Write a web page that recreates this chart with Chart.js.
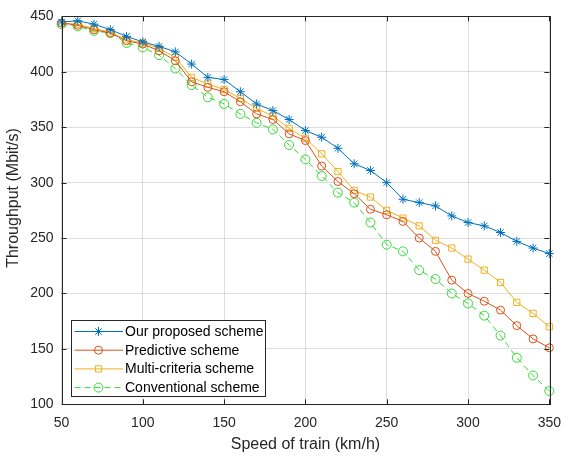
<!DOCTYPE html>
<html>
<head>
<meta charset="utf-8">
<title>Throughput vs train speed</title>
<script src="https://cdn.jsdelivr.net/npm/chart.js@4.4.1/dist/chart.umd.min.js"></script>
<style>
  html, body { margin: 0; padding: 0; background: #fff; }
  #wrap { width: 571px; height: 457px; }
</style>
</head>
<body>
<div id="wrap"><canvas id="throughput" width="571" height="457"></canvas></div>
<script>
const speeds = [50, 60, 70, 80, 90, 100, 110, 120, 130, 140, 150, 160, 170, 180, 190, 200,
  210, 220, 230, 240, 250, 260, 270, 280, 290, 300, 310, 320, 330, 340, 350];

const proposed = [445, 446, 443, 438, 432, 427, 423, 418, 407, 395, 393, 382, 371, 365, 357, 347,
  341, 331, 317, 311, 300, 285, 282, 279, 270, 264, 261, 255, 247, 241, 236];
const predictive = [444, 442, 438, 435, 428, 425, 419, 410, 391, 386, 382, 373, 362, 357, 344, 338,
  315, 301, 290, 276, 271, 265, 250, 238, 212, 200, 193, 185, 171, 159, 151];
const multiCriteria = [444, 443, 439, 436, 429, 426, 421, 413, 395, 389, 384, 376, 367, 360, 349, 340,
  326, 310, 293, 287, 275, 268, 261, 248, 241, 231, 221, 210, 192, 182, 170];
const conventional = [443, 441, 437, 435, 426, 422, 415, 403, 388, 377, 371, 362, 354, 348, 334, 321,
  306, 291, 282, 264, 244, 238, 221, 213, 200, 191, 180, 162, 142, 126, 112];

const seriesNames = ['Our proposed scheme', 'Predictive scheme', 'Multi-criteria scheme', 'Conventional scheme'];
const xTicks = [50, 100, 150, 200, 250, 300, 350];
const yTicks = [100, 150, 200, 250, 300, 350, 400, 450];

const FONT = '"Liberation Sans", Arial, Helvetica, sans-serif';
const AXIS_COLOR = '#262626';

function toPoints(values) {
  return values.map((v, i) => ({ x: speeds[i], y: v }));
}

function series(label, values, color, style, radius, dash) {
  return {
    label: label,
    data: toPoints(values),
    borderColor: color,
    borderWidth: 1,
    borderDash: dash || [],
    pointStyle: style,
    pointRadius: radius,
    pointHoverRadius: radius,
    pointBorderColor: color,
    pointBackgroundColor: 'rgba(0,0,0,0)',
    pointBorderWidth: 1,
    tension: 0,
    fill: false,
    clip: false,
  };
}

const datasets = [
  series(seriesNames[0], proposed, '#0072BD', 'star', 4.5),
  series(seriesNames[1], predictive, '#D95319', 'circle', 4),
  series(seriesNames[2], multiCriteria, '#EDB120', 'rect', 4.4),
  series(seriesNames[3], conventional, '#36DA36', 'circle', 4.5, [6, 4]),
];

// markers for the legend box, same shapes as the plotted points
function drawMarker(ctx, style, x, y, r) {
  ctx.beginPath();
  if (style === 'star') {
    ctx.moveTo(x - r, y); ctx.lineTo(x + r, y);
    ctx.moveTo(x, y - r); ctx.lineTo(x, y + r);
    const d = r * Math.SQRT1_2;
    ctx.moveTo(x - d, y - d); ctx.lineTo(x + d, y + d);
    ctx.moveTo(x - d, y + d); ctx.lineTo(x + d, y - d);
  } else if (style === 'rect') {
    const s = r * Math.SQRT1_2;
    ctx.rect(x - s, y - s, 2 * s, 2 * s);
  } else {
    ctx.arc(x, y, r, 0, Math.PI * 2);
  }
  ctx.stroke();
}

// axes box with inward ticks, y title, and the legend box
const boxPlugin = {
  id: 'axesBox',
  afterDatasetsDraw(chart) {
    const { ctx, chartArea: a, scales } = chart;
    ctx.save();
    ctx.strokeStyle = AXIS_COLOR;
    ctx.lineWidth = 1;
    ctx.strokeRect(Math.round(a.left) + 0.5, Math.round(a.top) + 0.5,
      Math.round(a.right - a.left), Math.round(a.bottom - a.top));
    const len = 5;
    ctx.beginPath();
    xTicks.forEach((t) => {
      const px = Math.round(scales.x.getPixelForValue(t)) + 0.5;
      ctx.moveTo(px, a.bottom); ctx.lineTo(px, a.bottom - len);
      ctx.moveTo(px, a.top); ctx.lineTo(px, a.top + len);
    });
    yTicks.forEach((t) => {
      const py = Math.round(scales.y.getPixelForValue(t)) + 0.5;
      ctx.moveTo(a.left, py); ctx.lineTo(a.left + len, py);
      ctx.moveTo(a.right, py); ctx.lineTo(a.right - len, py);
    });
    ctx.stroke();

    ctx.translate(14, 198);
    ctx.rotate(-Math.PI / 2);
    ctx.font = '16px ' + FONT;
    ctx.fillStyle = AXIS_COLOR;
    ctx.textAlign = 'center';
    ctx.textBaseline = 'middle';
    ctx.fillText('Throughput (Mbit/s)', 0, 0);
    ctx.restore();
  },
  afterDraw(chart) {
    const { ctx } = chart;
    const left = 71.5, top = 320.5, w = 194, h = 76;
    ctx.save();
    ctx.fillStyle = '#fff';
    ctx.fillRect(left, top, w, h);
    ctx.strokeStyle = AXIS_COLOR;
    ctx.lineWidth = 1;
    ctx.strokeRect(left, top, w, h);
    ctx.font = '14px ' + FONT;
    ctx.textBaseline = 'middle';
    ctx.textAlign = 'left';
    chart.data.datasets.forEach((ds, i) => {
      const y = 331.5 + i * 18.7;
      ctx.strokeStyle = ds.borderColor;
      ctx.lineWidth = 1;
      ctx.setLineDash(ds.borderDash);
      ctx.beginPath();
      ctx.moveTo(74.5, y); ctx.lineTo(123, y);
      ctx.stroke();
      ctx.setLineDash([]);
      drawMarker(ctx, ds.pointStyle, 98.5, y, ds.pointRadius);
      ctx.fillStyle = '#000';
      ctx.fillText(ds.label, 125, y + 0.5);
    });
    ctx.restore();
  },
};

new Chart(document.getElementById('throughput'), {
  type: 'line',
  data: { datasets: datasets },
  plugins: [boxPlugin],
  options: {
    responsive: false,
    animation: false,
    events: [],
    layout: { padding: { top: 12, right: 12, left: 0, bottom: 0 } },
    plugins: { legend: { display: false }, tooltip: { enabled: false } },
    scales: {
      x: {
        type: 'linear',
        min: 50,
        max: 350,
        afterBuildTicks: (scale) => { scale.ticks = xTicks.map((v) => ({ value: v })); },
        afterFit: (scale) => { scale.height = 52.7; },
        border: { display: false },
        grid: { color: 'rgba(0,0,0,0.13)', lineWidth: 1, drawTicks: false },
        ticks: { color: AXIS_COLOR, padding: 10, maxRotation: 0, font: { family: FONT, size: 14 } },
        title: {
          display: true,
          text: 'Speed of train (km/h)',
          color: AXIS_COLOR,
          font: { family: FONT, size: 16 },
          padding: { top: 0, bottom: 3 },
        },
      },
      y: {
        type: 'linear',
        min: 100,
        max: 450,
        afterBuildTicks: (scale) => { scale.ticks = yTicks.map((v) => ({ value: v })); },
        afterFit: (scale) => { scale.width = 61.5; },
        border: { display: false },
        grid: { color: 'rgba(0,0,0,0.13)', lineWidth: 1, drawTicks: false },
        ticks: { color: AXIS_COLOR, padding: 8, font: { family: FONT, size: 14 } },
      },
    },
  },
});
</script>
</body>
</html>
